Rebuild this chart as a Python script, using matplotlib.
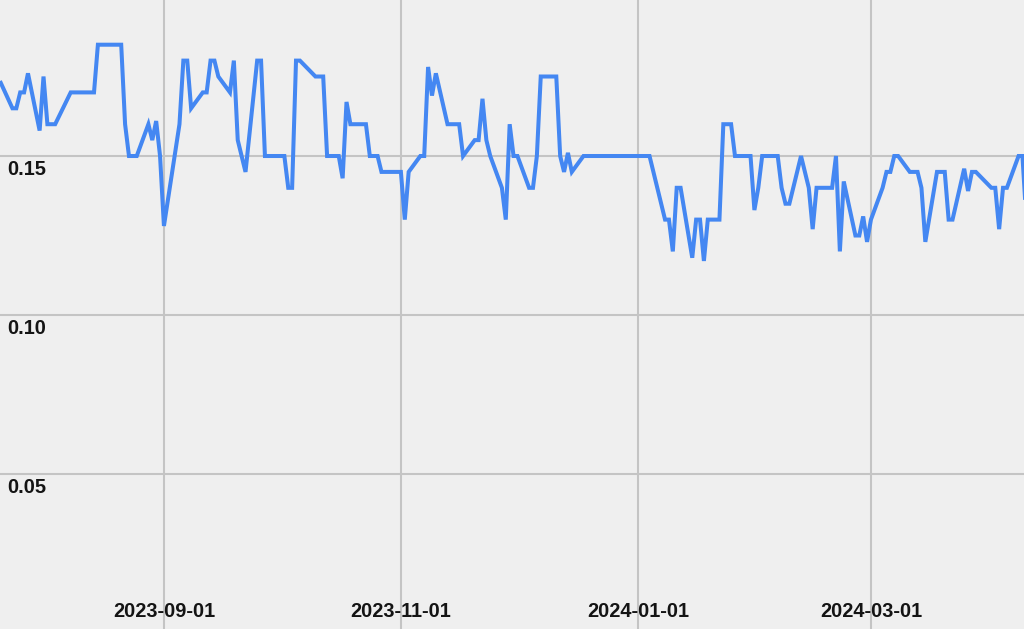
import matplotlib
matplotlib.use("Agg")
import matplotlib.pyplot as plt
import matplotlib.dates as mdates
import numpy as np
import pandas as pd

dates = [
    "2023-07-21", "2023-07-24", "2023-07-25", "2023-07-26", "2023-07-27", "2023-07-28",
    "2023-07-31", "2023-08-01", "2023-08-02", "2023-08-04", "2023-08-08", "2023-08-14",
    "2023-08-15", "2023-08-21", "2023-08-22", "2023-08-23", "2023-08-25", "2023-08-28",
    "2023-08-29", "2023-08-30", "2023-08-31", "2023-09-01", "2023-09-05", "2023-09-06",
    "2023-09-07", "2023-09-08", "2023-09-11", "2023-09-12", "2023-09-13", "2023-09-14",
    "2023-09-15", "2023-09-18", "2023-09-19", "2023-09-20", "2023-09-22", "2023-09-25",
    "2023-09-26", "2023-09-27", "2023-10-02", "2023-10-03", "2023-10-04", "2023-10-05",
    "2023-10-06", "2023-10-10", "2023-10-12", "2023-10-13", "2023-10-16", "2023-10-17",
    "2023-10-18", "2023-10-19", "2023-10-23", "2023-10-24", "2023-10-26", "2023-10-27",
    "2023-11-01", "2023-11-02", "2023-11-03", "2023-11-06", "2023-11-07", "2023-11-08",
    "2023-11-09", "2023-11-10", "2023-11-13", "2023-11-16", "2023-11-17", "2023-11-20",
    "2023-11-21", "2023-11-22", "2023-11-23", "2023-11-24", "2023-11-27", "2023-11-28",
    "2023-11-29", "2023-11-30", "2023-12-01", "2023-12-04", "2023-12-05", "2023-12-06",
    "2023-12-07", "2023-12-11", "2023-12-12", "2023-12-13", "2023-12-14", "2023-12-15",
    "2023-12-18", "2024-01-04", "2024-01-08", "2024-01-09", "2024-01-10", "2024-01-11",
    "2024-01-12", "2024-01-15", "2024-01-16", "2024-01-17", "2024-01-18", "2024-01-19",
    "2024-01-22", "2024-01-23", "2024-01-25", "2024-01-26", "2024-01-30", "2024-01-31",
    "2024-02-01", "2024-02-02", "2024-02-06", "2024-02-07", "2024-02-08", "2024-02-09",
    "2024-02-12", "2024-02-14", "2024-02-15", "2024-02-16", "2024-02-20", "2024-02-21",
    "2024-02-22", "2024-02-23", "2024-02-26", "2024-02-27", "2024-02-28", "2024-02-29",
    "2024-03-01", "2024-03-04", "2024-03-05", "2024-03-06", "2024-03-07", "2024-03-08",
    "2024-03-11", "2024-03-13", "2024-03-14", "2024-03-15", "2024-03-18", "2024-03-20",
    "2024-03-21", "2024-03-22", "2024-03-25", "2024-03-26", "2024-03-27", "2024-03-28",
    "2024-04-01", "2024-04-02", "2024-04-03", "2024-04-04", "2024-04-05", "2024-04-08",
    "2024-04-09", "2024-04-10",
]
values = [
    0.173, 0.165, 0.165, 0.170, 0.170, 0.176,
    0.158, 0.175, 0.160, 0.160, 0.170, 0.170,
    0.185, 0.185, 0.160, 0.150, 0.150, 0.160,
    0.155, 0.161, 0.150, 0.128, 0.160, 0.180,
    0.180, 0.165, 0.170, 0.170, 0.180, 0.180,
    0.175, 0.170, 0.180, 0.155, 0.145, 0.180,
    0.180, 0.150, 0.150, 0.140, 0.140, 0.180,
    0.180, 0.175, 0.175, 0.150, 0.150, 0.143,
    0.167, 0.160, 0.160, 0.150, 0.150, 0.145,
    0.145, 0.130, 0.145, 0.150, 0.150, 0.178,
    0.169, 0.176, 0.160, 0.160, 0.150, 0.155,
    0.155, 0.168, 0.155, 0.150, 0.140, 0.130,
    0.160, 0.150, 0.150, 0.140, 0.140, 0.150,
    0.175, 0.175, 0.150, 0.145, 0.151, 0.145,
    0.150, 0.150, 0.130, 0.130, 0.120, 0.140,
    0.140, 0.118, 0.130, 0.130, 0.117, 0.130,
    0.130, 0.160, 0.160, 0.150, 0.150, 0.133,
    0.140, 0.150, 0.150, 0.140, 0.135, 0.135,
    0.150, 0.140, 0.127, 0.140, 0.140, 0.150,
    0.120, 0.142, 0.125, 0.125, 0.131, 0.123,
    0.130, 0.140, 0.145, 0.145, 0.150, 0.150,
    0.145, 0.145, 0.140, 0.123, 0.145, 0.145,
    0.130, 0.130, 0.146, 0.139, 0.145, 0.145,
    0.140, 0.140, 0.127, 0.140, 0.140, 0.150,
    0.150, 0.130,
]
y_ticks = [0.05, 0.10, 0.15]

x = pd.to_datetime(dates)
font = ["Liberation Sans", "DejaVu Sans"]

fig = plt.figure(figsize=(10.24, 6.29), dpi=100)
fig.patch.set_facecolor("#efefef")
ax = fig.add_axes([0, 0, 1, 1])
ax.set_facecolor("#efefef")

ax.plot(x, values, color="#4487f2", linewidth=2.9, solid_joinstyle="miter", zorder=3)

ref = pd.Timestamp("2023-09-01")
ax.set_xlim(ref - pd.Timedelta(days=42.2), ref + pd.Timedelta(days=221.4))
ax.set_ylim(0.00126, 0.19906)

ax.xaxis.set_major_locator(mdates.MonthLocator(bymonth=[1, 3, 5, 7, 9, 11]))
ax.xaxis.set_major_formatter(mdates.DateFormatter("%Y-%m-%d"))
ax.set_yticks(y_ticks)
ax.grid(True, color="#c4c4c4", linewidth=1.5, zorder=1)
ax.set_axisbelow(True)
for s in ax.spines.values():
    s.set_visible(False)

ax.tick_params(axis="x", length=0, pad=-19.5)
for lbl in ax.get_xticklabels():
    lbl.set_fontfamily(font)
    lbl.set_fontsize(14.4)
    lbl.set_fontweight("bold")
    lbl.set_color("#141414")

ax.tick_params(axis="y", length=0, labelleft=False)
for v in y_ticks:
    ax.annotate(f"{v:.2f}", xy=(0, v), xycoords=("axes fraction", "data"),
                xytext=(5.0, -9.5), textcoords="offset points",
                ha="left", va="center", fontsize=14.4, fontweight="bold",
                family=font, color="#141414")

fig.savefig("out.png", dpi=100, facecolor=fig.get_facecolor())
